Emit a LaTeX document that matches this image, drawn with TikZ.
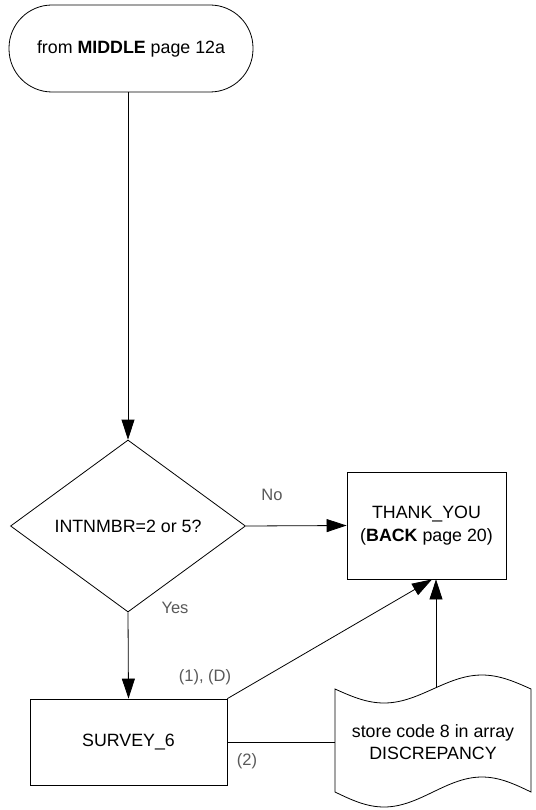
\documentclass[tikz,border=0pt]{standalone}
\usepackage{fontspec}
\setmainfont{Liberation Sans}
\usetikzlibrary{shapes.geometric,arrows.meta}
\begin{document}
\begin{tikzpicture}[x=1pt,y=-1pt,
  every node/.style={font=\fontsize{17.8}{22.5}\selectfont, align=center, inner sep=0pt},
  shp/.style={draw, line width=0.8pt},
  arr/.style={-{Triangle[length=20pt,width=13pt]}, line width=0.8pt},
  lnk/.style={line width=0.8pt},
  lbl/.style={font=\fontsize{16.5}{19}\selectfont, text=black!65}]
\useasboundingbox (0,0) rectangle (535,810);
\fill[white] (0,0) rectangle (535,810);

\node[shp, rounded corners=43pt, minimum width=244pt, minimum height=87pt] (start) at (131,48.5) {from \textbf{MIDDLE} page 12a};
\node[shp, diamond, minimum width=235pt, minimum height=172pt] (dec) at (128,526) {INTNMBR=2 or 5?};
\node[shp, minimum width=159pt, minimum height=107pt] (thank) at (426.5,525.5) {THANK\_YOU\\(\textbf{BACK} page 20)};
\node[shp, minimum width=197pt, minimum height=86pt] (survey) at (128.5,742) {SURVEY\_6};

\draw[lnk] plot[domain=0:196,samples=60] ({335+\x},{689+14*sin(\x/196*360)})
  -- plot[domain=196:0,samples=60] ({335+\x},{792+15*sin(\x/196*360)}) -- cycle;
\node (store) at (433,742) {store code 8 in array\\DISCREPANCY};
\coordinate (tapeL) at (335,742);
\coordinate (tapeT) at (436,688);

\draw[arr] (start.south -| dec.north) -- (dec.north);
\draw[arr] (dec.east) -- (thank.west);
\draw[arr] (dec.south) -- (survey.north);
\draw[arr] (survey.north east) -- ([xshift=5.5pt]thank.south);
\draw[arr] (tapeT) -- (tapeT |- thank.south);
\draw[lnk] (survey.east) -- (tapeL);

\node[lbl] (no) at (272,495) {No};
\node[lbl] (yes) at (175,608) {Yes};
\node[lbl] (one) at (205,677) {(1), (D)};
\node[lbl] (two) at (247,761) {(2)};
\end{tikzpicture}
\end{document}
